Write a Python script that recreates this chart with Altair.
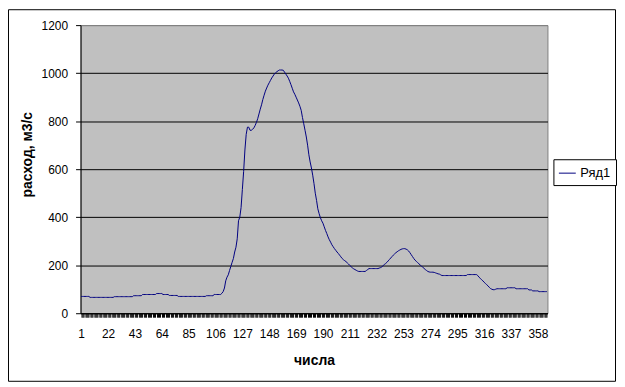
import altair as alt
import pandas as pd

# Daily discharge values, by month
jan = [70, 70, 70, 70, 70, 70, 70, 66, 66, 66, 66, 66, 66, 66, 66, 66, 66, 66, 66, 66, 66, 66, 66, 66, 66, 66, 69, 69, 69, 69, 69]
feb = [69, 69, 69, 69, 69, 69, 69, 69, 69, 69, 73, 73, 73, 73, 73, 73, 73, 78, 78, 78, 78, 78, 78, 78, 78, 78, 78, 78]
mar = [82, 82, 82, 82, 82, 78, 78, 78, 78, 78, 74, 74, 74, 74, 74, 74, 74, 70, 70, 70, 70, 70, 70, 70, 70, 70, 70, 70, 70, 70, 70]
apr = [70, 70, 70, 70, 70, 70, 70, 70, 73, 73, 73, 73, 73, 73, 78, 78, 78, 78, 78, 78, 83, 90, 105, 135, 150, 160, 178, 195, 212, 228]
may = [255, 275, 310, 385, 400, 440, 515, 590, 680, 745, 775, 775, 762, 762, 766, 772, 782, 795, 810, 830, 850, 868, 890, 908, 925, 938, 950, 960, 970, 980, 988]
jun = [996, 1002, 1006, 1010, 1013, 1013, 1013, 1012, 1004, 996, 988, 979, 966, 952, 937, 922, 912, 900, 888, 876, 862, 845, 815, 789, 762, 734, 700, 660, 630, 605]
jul = [575, 540, 500, 470, 435, 415, 398, 385, 375, 360, 345, 332, 318, 306, 296, 285, 277, 269, 262, 255, 249, 242, 235, 228, 223, 219, 215, 210, 205, 199, 194]
aug = [189, 185, 182, 179, 176, 174, 174, 174, 174, 174, 174, 178, 182, 186, 186, 186, 186, 186, 186, 186, 186, 188, 190, 193, 198, 203, 207, 212, 218, 224, 230]
sep = [236, 242, 247, 252, 256, 260, 263, 266, 268, 269, 269, 267, 264, 259, 252, 244, 236, 228, 221, 216, 211, 206, 201, 196, 192, 187, 182, 178, 174, 172]
oct_ = [171, 171, 171, 170, 168, 166, 164, 163, 160,
        157, 157, 157, 157, 157, 157, 157, 157, 157, 157,
        157, 157, 157, 157, 157, 157, 157, 157, 157, 157,
        161, 161]
nov = [161, 161, 161, 161, 161, 161, 157, 150, 145, 140, 135, 129, 124, 119, 114, 108, 103, 100, 98, 98, 100, 102, 102, 102, 102, 102, 102, 102, 102, 106]
dec = [106, 106, 106, 106, 106, 106, 102, 102, 102, 102, 102, 102, 102, 102, 102, 102, 97, 97, 97, 93, 93, 93, 93, 93, 90, 90, 90, 90, 90, 90, 90]

values = jan + feb + mar + apr + may + jun + jul + aug + sep + oct_ + nov + dec
days = list(range(1, len(values) + 1))
series_name = "Ряд1"
x_tick_labels = [1, 22, 43, 64, 85, 106, 127, 148, 169, 190, 211, 232, 253, 274, 295, 316, 337, 358]
y_ticks = [0, 200, 400, 600, 800, 1000, 1200]

df = pd.DataFrame({"day": days, "value": values, "series": series_name})

FONT = "Liberation Sans"
W, H = 470, 290

label_expr = "indexof(" + str(x_tick_labels) + ", datum.value) >= 0 ? datum.label : ''"

line = alt.Chart(df).mark_line(strokeWidth=1).encode(
    x=alt.X(
        "day:Q",
        scale=alt.Scale(domain=[0.5, len(values) + 0.5], nice=False, zero=False),
        axis=alt.Axis(
            values=days, format="d", labelExpr=label_expr, labelOverlap=False,
            labelFlush=False, labelBound=False, grid=False,
            tickSize=4, tickColor="black", tickWidth=1,
            domainColor="black", labelColor="black", labelFont=FONT, labelFontSize=12,
            labelPadding=11, title="числа", titleFont=FONT, titleFontSize=14,
            titleFontWeight="bold", titleColor="black", titleY=52,
            titleBaseline="alphabetic",
        ),
    ),
    y=alt.Y(
        "value:Q",
        scale=alt.Scale(domain=[0, 1200], nice=False),
        axis=alt.Axis(
            values=y_ticks, format="d", grid=True,
            gridColor={"condition": {"test": "datum.value == 1200", "value": "#808080"}, "value": "black"},
            gridWidth=1, tickSize=5, tickColor="black", domainColor="black",
            labelColor="black", labelFont=FONT, labelFontSize=12, labelPadding=8,
            title="расход, м3/с", titleFont=FONT, titleFontSize=14, titleFontWeight="bold",
            titleColor="black", titleX=-53, titleY=130, titleAlign="center",
            titleBaseline="middle", titleAngle=-90,
        ),
    ),
    color=alt.Color(
        "series:N",
        scale=alt.Scale(range=["#000080"]),
        legend=alt.Legend(
            title=None, orient="none", legendX=476, legendY=135,
            strokeColor="black", fillColor="white", padding=5,
            symbolType="stroke", symbolSize=289, symbolStrokeWidth=1,
            labelFont=FONT, labelFontSize=13, labelColor="black", labelOffset=4,
        ),
    ),
)

border = alt.Chart(pd.DataFrame({"a": [0]})).mark_rect(
    filled=False, stroke="black", strokeWidth=1
).encode(
    x=alt.value(-72.5), x2=alt.value(538.5), y=alt.value(-15.5), y2=alt.value(358.5)
)

chart = alt.layer(line, border).properties(
    width=W, height=H,
    autosize=alt.AutoSizeParams(type="none"),
    padding={"left": 73, "top": 16, "right": 70, "bottom": 70},
    background="white",
).configure_view(
    fill="#C0C0C0", stroke="#808080", strokeWidth=1
)

chart.save("out.html", embed_options={"renderer": "svg", "actions": False})
